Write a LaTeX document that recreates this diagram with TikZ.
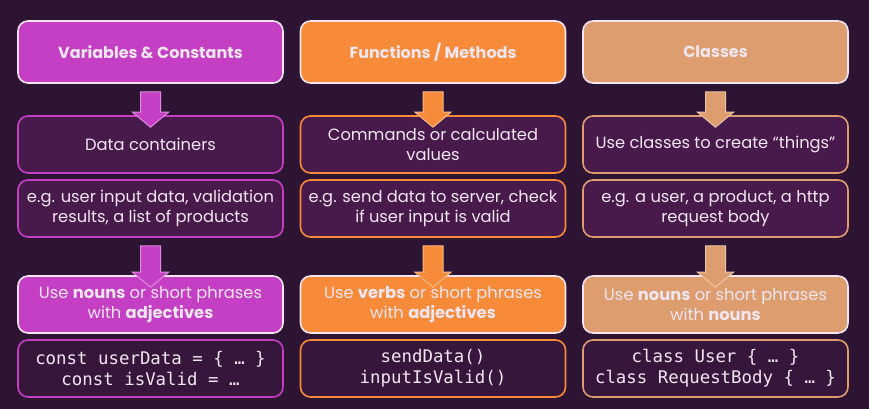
\documentclass[tikz,border=0pt]{standalone}
\usepackage{fontspec}
\setmainfont{Poppins}
\setmonofont{DejaVu Sans Mono}
\usetikzlibrary{calc}
\definecolor{bg}{HTML}{2E1433}
\definecolor{mag}{HTML}{C43FC4}
\definecolor{ora}{HTML}{F78B3A}
\definecolor{tanc}{HTML}{DE9D6E}
\definecolor{inner}{HTML}{471A4B}
\definecolor{codebg}{HTML}{37163B}
\definecolor{txt}{HTML}{F2E6F0}
\definecolor{rim}{HTML}{F6E4F0}
\newcommand\blockarrow[3]{%
  \draw[arr=#3] ($(#1.south)+(-10,8)$) -- ($(#2.north)+(-10,-3)$) -- ($(#2.north)+(-18,-3)$)
    -- ($(#2.north)+(0,12)$) -- ($(#2.north)+(18,-3)$) -- ($(#2.north)+(10,-3)$)
    -- ($(#1.south)+(10,8)$) -- cycle;}
\begin{document}
\begin{tikzpicture}[x=1pt,y=-1pt,
  box/.style={rounded corners=10pt, minimum width=265pt, align=center, text=txt, line width=1.6pt, inner sep=0pt},
  headbox/.style={box, minimum height=62pt, fill=#1, draw=rim, font=\bfseries\fontsize{16}{20}\selectfont},
  descbox/.style={box, minimum height=57pt, fill=inner, draw=#1, font=\fontsize{16.3}{20}\selectfont},
  rulebox/.style={box, minimum height=57pt, fill=#1, draw=rim, font=\fontsize{16.3}{20}\selectfont},
  codebox/.style={box, minimum height=57pt, fill=codebg, draw=#1, font=\ttfamily\fontsize{17.4}{21}\selectfont},
  arr/.style={fill=#1, draw=#1!60!white, line width=1pt}]
\fill[bg] (0,0) rectangle (869,409);
\useasboundingbox (0,0) rectangle (869,409);
% column 1
\node[headbox=mag] (h1) at (150.5,52) {Variables \& Constants};
\node[descbox=mag] (d1) at (150.5,144.5) {Data containers};
\node[descbox=mag] (e1) at (150.5,208.5) {e.g. user input data, validation\\results, a list of products};
\node[rulebox=mag] (r1) at (150.5,304.5) {Use \textbf{nouns} or short phrases\\with \textbf{adjectives}};
\node[codebox=mag] (c1) at (150.5,368.5) {const userData = \{ … \}\\const isValid = …};
% column 2
\node[headbox=ora] (h2) at (433,52) {Functions / Methods};
\node[descbox=ora] (d2) at (433,144.5) {Commands or calculated\\values};
\node[descbox=ora] (e2) at (433,208.5) {e.g. send data to server, check\\if user input is valid};
\node[rulebox=ora] (r2) at (433,304.5) {Use \textbf{verbs} or short phrases\\with \textbf{adjectives}};
\node[codebox=ora] (c2) at (433,368.5) {sendData()\\inputIsValid()};
% column 3
\node[headbox=tanc] (h3) at (715.5,52) {Classes};
\node[descbox=tanc] (d3) at (715.5,144.5) {Use classes to create “things”};
\node[descbox=tanc] (e3) at (715.5,208.5) {e.g. a user, a product, a http\\request body};
\node[rulebox=tanc] (r3) at (715.5,304.5) {Use \textbf{nouns} or short phrases\\with \textbf{nouns}};
\node[codebox=tanc] (c3) at (715.5,368.5) {class User \{ … \}\\class RequestBody \{ … \}};
% arrows
\blockarrow{h1}{d1}{mag}
\blockarrow{e1}{r1}{mag}
\blockarrow{h2}{d2}{ora}
\blockarrow{e2}{r2}{ora}
\blockarrow{h3}{d3}{tanc}
\blockarrow{e3}{r3}{tanc}
\end{tikzpicture}
\end{document}
